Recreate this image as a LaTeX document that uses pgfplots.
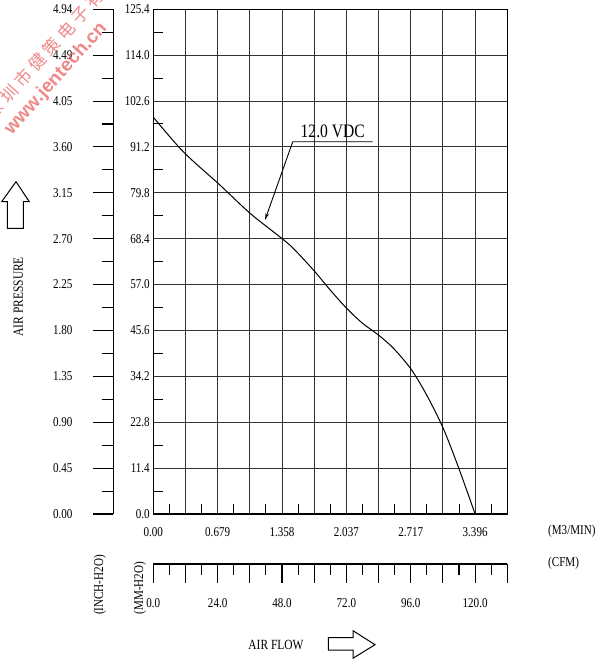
\documentclass[border=0pt]{standalone}
\usepackage{fontspec}
\setmainfont{Liberation Serif}[FakeStretch=0.82]
\newfontfamily\cjk{Noto Sans CJK SC}[LetterSpace=25]
\newfontfamily\wmfont{Liberation Sans}
\usepackage{pgfplots}
\pgfplotsset{compat=1.18}
\usetikzlibrary{arrows.meta}
\definecolor{wmred}{RGB}{232,85,85}
\newcommand\lbl{\fontsize{13.5bp}{15bp}\selectfont}
\begin{document}
\begin{tikzpicture}[every node/.style={font=\lbl}]
\useasboundingbox (0bp,0bp) rectangle (598bp,659bp);
\begin{axis}[
  at={(153.3bp,145bp)}, anchor=south west,
  scale only axis, width=354bp, height=504.7bp,
  xmin=0, xmax=132, ymin=0, ymax=125.4,
  xtick={0,12,...,132},
  xticklabels={0.00,,0.679,,1.358,,2.037,,2.717,,3.396,},
  ytick={0,11.4,22.8,34.2,45.6,57.0,68.4,79.8,91.2,102.6,114.0,125.4},
  yticklabels={0.0,11.4,22.8,34.2,45.6,57.0,68.4,79.8,91.2,102.6,114.0,125.4},
  grid=major,
  grid style={black!80, line width=0.9bp},
  axis line style={black, line width=1.2bp},
  tick pos=left, tick align=inside,
  major tick length=0pt, minor tick length=10bp,
  minor x tick num=1, minor y tick num=1,
  every tick/.style={black, line width=1bp},
  tick label style={font=\lbl},
  xticklabel style={anchor=center, yshift=-17.7bp},
]
\addplot[black, line width=1bp, smooth, tension=0.5] coordinates {
 (0,98.6) (11.19,90.0) (24.9,81.7) (36.1,74.7) (47.3,68.8) (52.2,66.0)
 (60.0,60.4) (65.9,55.7) (72.1,51.1) (78.0,47.4) (83.9,44.5) (89.5,41.2)
 (96.1,36.0) (101.9,29.6) (108.1,21.3) (113.7,11.75) (120.0,0)
};
\draw[black, line width=0.9bp, -{Stealth[length=7bp,width=3.5bp]}]
  (axis cs:81.8,92.5) -- (axis cs:52.0,92.5) -- (axis cs:41.65,73.05);
\node[anchor=base, inner sep=0, font=\fontsize{19bp}{20bp}\selectfont]
  at (axis cs:66.9,93.6) {12.0 VDC};
\end{axis}
\begin{scope}[x=1bp,y=1bp]
% inch-H2O scale
\draw[black, line width=1.1bp] (113.3,145) -- (113.3,649.7);
\foreach \k/\lab in {0/0.00,1/0.45,2/0.90,3/1.35,4/1.80,5/2.25,6/2.70,7/3.15,8/3.60,9/4.05,10/4.49,11/4.94}{
  \draw[black, line width=1.1bp] (93.3,{145+\k*45.882}) -- (113.3,{145+\k*45.882});
  \node[anchor=east, inner sep=0] at (72.7,{145+\k*45.882}) {\lab};
}
\foreach \k in {0,...,10}{
  \draw[black, line width=1.1bp] (101.7,{145+(\k+0.5)*45.882}) -- (113.3,{145+(\k+0.5)*45.882});
}
% CFM scale
\draw[black, line width=1.1bp] (153.3,95) -- (507.3,95);
\foreach \k in {0,...,11}{
  \draw[black, line width=1.1bp] ({153.3+\k*32.182},95) -- ({153.3+\k*32.182},75.7);
}
\foreach \k in {0,...,10}{
  \draw[black, line width=1.1bp] ({153.3+(\k+0.5)*32.182},95) -- ({153.3+(\k+0.5)*32.182},84);
}
\foreach \k/\lab in {0/0.0,2/24.0,4/48.0,6/72.0,8/96.0,10/120.0}{
  \node[anchor=center, inner sep=0] at ({153.3+\k*32.182},56) {\lab};
}
% unit labels
\node[anchor=west, inner sep=0] at (548,127.3) {(M3/MIN)};
\node[anchor=west, inner sep=0] at (548,96) {(CFM)};
\node[rotate=90, inner sep=0] at (100,74) {(INCH-H2O)};
\node[rotate=90, inner sep=0] at (140,71) {(MM-H2O)};
% axis titles and arrows
\node[rotate=90, inner sep=0, font=\fontsize{14bp}{15bp}\selectfont] at (18.3,362.3) {AIR PRESSURE};
\node[inner sep=0, font=\fontsize{14bp}{15bp}\selectfont] at (276,14) {AIR FLOW};
\draw[black, line width=1bp] (7.3,430.7) -- (7.3,457.3) -- (1.7,457.3) -- (16,477.3)
  -- (29.3,457.3) -- (23.3,457.3) -- (23.3,430.7) -- cycle;
\draw[black, line width=1bp] (328.3,21.3) -- (353,21.3) -- (353,28.3) -- (375,14.3)
  -- (353,0.7) -- (353,9) -- (328.3,9) -- cycle;
% watermark
\clip (0,0) rectangle (598,659);
\node[rotate=48, anchor=west, inner sep=0, text=wmred, opacity=0.7,
  font=\cjk\fontsize{17bp}{17bp}\selectfont] at (-11,543) {深圳市健策电子有限公司};
\node[rotate=48, anchor=west, inner sep=0, text=wmred, opacity=0.7,
  font=\wmfont\bfseries\fontsize{19bp}{19bp}\selectfont] at (8,527) {www.jentech.cn};
\end{scope}
\end{tikzpicture}
\end{document}
